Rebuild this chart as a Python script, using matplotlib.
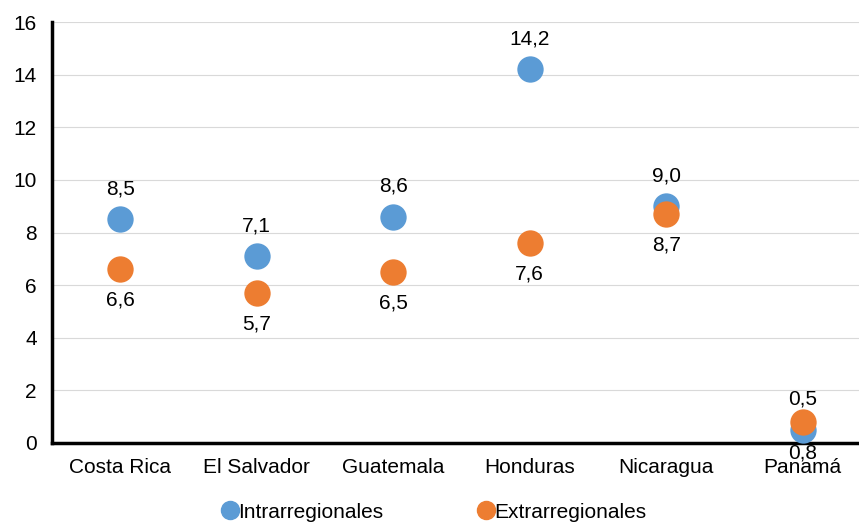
import matplotlib
matplotlib.use("Agg")
import matplotlib.pyplot as plt
from matplotlib.lines import Line2D

plt.rcParams['font.family'] = ['Liberation Sans', 'DejaVu Sans']

categories = ["Costa Rica", "El Salvador", "Guatemala", "Honduras", "Nicaragua", "Panamá"]
intra = [8.5, 7.1, 8.6, 14.2, 9.0, 0.5]
extra = [6.6, 5.7, 6.5, 7.6, 8.7, 0.8]
yticks = [0, 2, 4, 6, 8, 10, 12, 14, 16]

blue = "#5B9BD5"
orange = "#ED7D31"
FS = 15

W, H = 859, 523
fig = plt.figure(figsize=(W / 100, H / 100), dpi=100)
left, right, bottom, top = 52, 871, 443, 22
ax = fig.add_axes([left / W, (H - bottom) / H, (right - left) / W, (bottom - top) / H])

x = list(range(len(categories)))
ax.scatter(x, intra, s=360, color=blue, zorder=3, linewidths=0)
ax.scatter(x, extra, s=360, color=orange, zorder=4, linewidths=0)

def fmt(v):
    return f"{v:.1f}".replace(".", ",")

for xi, v in zip(x, intra):
    ax.annotate(fmt(v), (xi, v), xytext=(0, 22), textcoords="offset points",
                ha="center", va="center", fontsize=FS, color="#000000", zorder=5)
for xi, v in zip(x, extra):
    ax.annotate(fmt(v), (xi, v), xytext=(0, -22), textcoords="offset points",
                ha="center", va="center", fontsize=FS, color="#000000", zorder=5)

ax.set_xlim(-0.5, len(categories) - 0.5)
ax.set_ylim(0, 16)
ax.set_yticks(yticks)
ax.set_yticklabels([str(t) for t in yticks])
ax.set_xticks(x)
ax.set_xticklabels(categories)
ax.tick_params(axis="both", length=0, labelsize=FS, colors="#000000")
ax.tick_params(axis="x", pad=11)
ax.tick_params(axis="y", pad=11)
ax.yaxis.grid(True, color="#D9D9D9", linewidth=0.8)
ax.set_axisbelow(True)
for s in ["top", "right"]:
    ax.spines[s].set_visible(False)
ax.spines["left"].set_linewidth(2.5)
ax.spines["bottom"].set_linewidth(2.5)
ax.spines["left"].set_color("black")
ax.spines["bottom"].set_color("black")

handles = [
    Line2D([], [], marker="o", linestyle="", markersize=13, color=blue, label="Intrarregionales"),
    Line2D([], [], marker="o", linestyle="", markersize=13, color=orange, label="Extrarregionales"),
]
fig.legend(handles=handles, loc="center", bbox_to_anchor=(433 / W, 1 - 512 / H), ncol=2,
           frameon=False, fontsize=FS, handletextpad=-0.1, columnspacing=4.4,
           handlelength=1.0)

fig.savefig("out.png", dpi=100)
